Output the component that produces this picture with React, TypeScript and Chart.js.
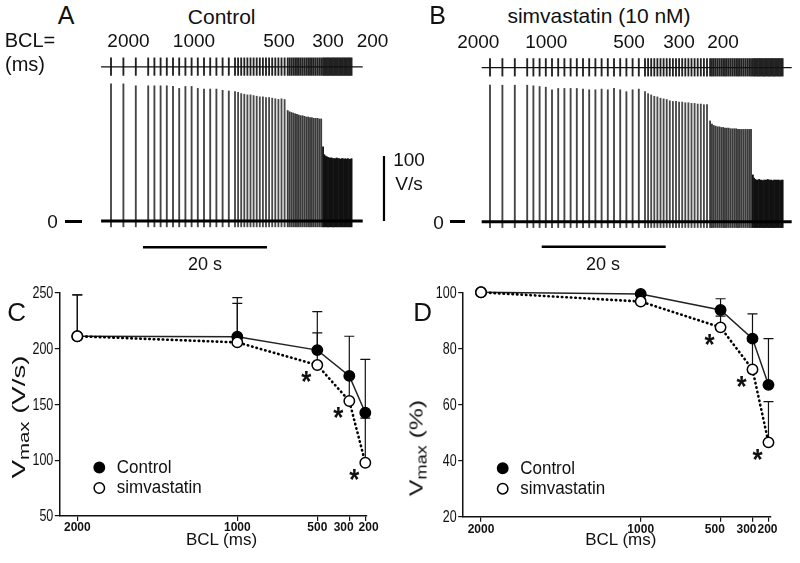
import React, { useEffect, useRef } from 'react';
import { Chart, registerables } from 'chart.js';

Chart.register(...registerables);

const FONT = '"Liberation Sans", Arial, Helvetica, sans-serif';
const INK = '#111';

// ---------------- Panels A & B: Vmax of every upstroke during the BCL ramp ----------------
const BCL_STEPS_MS = [2000, 1000, 500, 300, 200];

// Control (A), V/s per beat, grouped by basic cycle length
const CTRL_BEATS_2000 = [211, 211, 208];
const CTRL_BEATS_1000 = [208, 208, 208, 208, 207, 204, 207, 207, 204, 203, 203, 203, 201, 200];
const CTRL_BEATS_500 = [199, 198, 196, 195, 194, 194, 193, 192, 191, 191, 190, 190, 189, 188, 187, 188, 187];
const CTRL_BEATS_300 = [170, 168, 167, 166, 165, 164, 163, 162, 162, 161, 160, 160, 159, 159, 158, 158, 158, 157, 157];
const CTRL_BEATS_200 = [114, 102, 100, 99, 98, 97, 97, 97, 96, 96, 96, 97, 96, 96, 95, 96, 96, 95, 96, 95, 96, 95, 95, 96];

// simvastatin 10 nM (B), V/s per beat
const SIMVA_BEATS_2000 = [210, 210, 210];
const SIMVA_BEATS_1000 = [210, 209, 208, 207, 203, 205, 205, 205, 205, 204, 203, 203, 204, 203, 205, 203, 200, 203, 204];
const SIMVA_BEATS_500 = [200, 197, 195, 193, 192, 190, 189, 188, 186, 185, 185, 184, 184, 183, 183, 182, 182, 181, 181, 180, 180];
const SIMVA_BEATS_300 = [155, 150, 148, 147, 146, 146, 145, 145, 144, 144, 144, 143, 143, 143, 143, 142, 142, 142, 142, 142, 142, 142, 142];
const SIMVA_BEATS_200 = [72, 67, 65, 64, 64, 65, 64, 64, 63, 64, 64, 64, 65, 64, 64, 64, 63, 64, 64, 64, 64, 64, 63, 64, 64];

const UNDERSHOOT_VS = -9;
const STIM_TICK_LO = 224;
const STIM_TICK_HI = 251;
const STIM_ROW = 237;
const SCALE_BAR_S = 20;
const SCALE_BAR_VS = 100;

// ---------------- Panels C & D: summary ----------------
const BCL_AXIS = [2000, 1000, 500, 300, 200];
const C_Y_TICKS = [50, 100, 150, 200, 250];
const D_Y_TICKS = [20, 40, 60, 80, 100];

const CTRL_VMAX = [211, 210.6, 198.6, 175.5, 142.5];
const CTRL_VMAX_SD = [37, 35, 34.4, 35.5, 47.8];
const SIMVA_VMAX = [211, 205.5, 185.2, 153, 97.7];
const SIMVA_VMAX_SD = [37, 35, 28.8, 24, 40];

const CTRL_PCT = [100, 99.4, 93.7, 83.5, 67];
const CTRL_PCT_SD = [0, 0.5, 4, 8.8, 16.5];
const SIMVA_PCT = [100, 96.7, 87.5, 72.5, 46.5];
const SIMVA_PCT_SD = [0, 1, 4, 10, 14.5];

const SIMVA_SIGNIFICANT = [false, false, true, true, true];

const SPIKE_COLOR: Record<number, string> = { 2000: '#444', 1000: '#444', 500: '#4a4a4a', 300: '#3a3a3a', 200: '#111' };

type Beat = { t: number; vmax: number; bcl: number };

function buildBeats(groups: number[][]): Beat[] {
  let t = 0;
  const beats: Beat[] = [];
  groups.forEach((amps, g) => {
    const bcl = BCL_STEPS_MS[g];
    amps.forEach((a) => {
      beats.push({ t, vmax: a, bcl });
      t += bcl / 1000;
    });
  });
  return beats;
}

type TraceGeom = {
  xMin: number; xMax: number; yMin: number; yMax: number;
  lineFrom: number; lineTo: number;
  timeBarFrom: number; timeBarY: number;
  ampBarX?: number;
};

function traceConfig(beats: Beat[], g: TraceGeom): any {
  const datasets: any[] = [
    {
      type: 'line', data: [{ x: g.lineFrom, y: 0 }, { x: g.lineTo, y: 0 }],
      borderColor: '#000', borderWidth: 3, pointRadius: 0,
    },
    {
      type: 'line', data: [{ x: g.lineFrom, y: STIM_ROW }, { x: g.lineTo, y: STIM_ROW }],
      borderColor: INK, borderWidth: 1.3, pointRadius: 0,
    },
    {
      type: 'bar', data: beats.map((b) => ({ x: b.t, y: [UNDERSHOOT_VS, b.vmax] })),
      backgroundColor: beats.map((b) => SPIKE_COLOR[b.bcl]), barThickness: 1.2, grouped: false,
    },
    {
      type: 'bar', data: beats.map((b) => ({ x: b.t, y: [STIM_TICK_LO, STIM_TICK_HI] })),
      backgroundColor: '#222', barThickness: 1.2, grouped: false,
    },
    {
      type: 'line', data: [{ x: g.timeBarFrom, y: g.timeBarY }, { x: g.timeBarFrom + SCALE_BAR_S, y: g.timeBarY }],
      borderColor: '#000', borderWidth: 2.5, pointRadius: 0,
    },
  ];
  if (g.ampBarX !== undefined) {
    datasets.push({
      type: 'line', data: [{ x: g.ampBarX, y: 0 }, { x: g.ampBarX, y: SCALE_BAR_VS }],
      borderColor: '#000', borderWidth: 2.2, pointRadius: 0,
    });
  }
  return {
    type: 'bar',
    data: { datasets },
    options: {
      animation: false, responsive: false, devicePixelRatio: 1, events: [],
      layout: { padding: 0 },
      plugins: { legend: { display: false }, tooltip: { enabled: false } },
      scales: {
        x: { type: 'linear', min: g.xMin, max: g.xMax, offset: false, display: false },
        y: { type: 'linear', min: g.yMin, max: g.yMax, display: false },
      },
    },
  };
}

function drawStretched(ctx: any, text: string, x: number, y: number, sx: number, sy: number) {
  ctx.save();
  ctx.translate(x, y);
  ctx.scale(sx, sy);
  ctx.fillText(text, 0, 0);
  ctx.restore();
}

const panelExtras = {
  id: 'panelExtras',
  beforeDatasetsDraw(chart: any) {
    const ctx = chart.ctx;
    const xs = chart.scales.x;
    const ys = chart.scales.y;
    ctx.save();
    ctx.strokeStyle = INK;
    ctx.lineWidth = 1.2;
    chart.data.datasets.forEach((ds: any) => {
      const sd = ds.errorUp;
      if (!sd) return;
      ds.data.forEach((p: any, i: number) => {
        if (!sd[i]) return;
        const x = xs.getPixelForValue(p.x);
        const y0 = ys.getPixelForValue(p.y);
        const y1 = ys.getPixelForValue(p.y + sd[i]);
        ctx.beginPath();
        ctx.moveTo(x, y0);
        ctx.lineTo(x, y1);
        ctx.moveTo(x - 5, y1);
        ctx.lineTo(x + 5, y1);
        ctx.stroke();
      });
    });
    ctx.restore();
  },
  afterDraw(chart: any, _args: any, opts: any) {
    const ctx = chart.ctx;
    const xs = chart.scales.x;
    const ys = chart.scales.y;
    const area = chart.chartArea;
    // y tick labels (tall, narrow lettering)
    ctx.save();
    ctx.fillStyle = INK;
    ctx.font = `12.5px ${FONT}`;
    ctx.textAlign = 'right';
    ctx.textBaseline = 'middle';
    ys.ticks.forEach((t: any) => {
      drawStretched(ctx, String(t.value), area.left - 6, ys.getPixelForValue(t.value) + 0.5, 1, 1.38);
    });
    ctx.restore();

    // x tick labels (bold), nudged apart where crowded
    ctx.save();
    ctx.fillStyle = INK;
    ctx.font = `bold 12px ${FONT}`;
    ctx.textAlign = 'center';
    ctx.textBaseline = 'middle';
    xs.ticks.forEach((t: any, i: number) => {
      const nudge = (opts.xNudge && opts.xNudge[i]) || 0;
      drawStretched(ctx, String(t.value), xs.getPixelForValue(t.value) + nudge, area.bottom + opts.xLabelDy, 1, 1.1);
    });
    ctx.restore();

    // significance asterisks
    ctx.save();
    ctx.fillStyle = INK;
    ctx.font = `bold 26px ${FONT}`;
    ctx.textAlign = 'center';
    ctx.textBaseline = 'alphabetic';
    const m = ctx.measureText('*');
    const dy = (m.actualBoundingBoxAscent - m.actualBoundingBoxDescent) / 2;
    chart.data.datasets.forEach((ds: any) => {
      if (!ds.significant) return;
      ds.data.forEach((p: any, i: number) => {
        if (!ds.significant[i]) return;
        const cx = xs.getPixelForValue(p.x) - 11;
        const cy = ys.getPixelForValue(p.y) + 11.5;
        ctx.save();
        ctx.translate(cx, cy);
        ctx.scale(1, 1.15);
        ctx.fillText('*', 0, dy);
        ctx.restore();
      });
    });
    ctx.restore();

    // legend
    ctx.save();
    const items = [chart.data.datasets[1], chart.data.datasets[0]];
    items.forEach((ds: any, k: number) => {
      const cx = area.left + 40;
      const cy = area.bottom - 48.5 + k * 20.5;
      ctx.beginPath();
      ctx.arc(cx, cy, 5.2, 0, Math.PI * 2);
      ctx.fillStyle = ds.pointBackgroundColor;
      ctx.fill();
      ctx.lineWidth = 1.5;
      ctx.strokeStyle = '#000';
      ctx.stroke();
      ctx.fillStyle = INK;
      ctx.font = `17px ${FONT}`;
      ctx.textAlign = 'left';
      ctx.textBaseline = 'middle';
      drawStretched(ctx, ds.label, cx + 17.5, cy + 0.5, 1, 1.05);
    });
    ctx.restore();
  },
};

type SummaryGeom = {
  yMin: number; yMax: number; yTicks: number[];
  xMin: number; xMax: number;
  yAxisWidth: number; xAxisHeight: number; padTop: number; padRight: number;
  xNudge: number[]; xLabelDy: number;
};

function summaryConfig(ctrl: number[], ctrlSd: number[], simva: number[], simvaSd: number[], g: SummaryGeom): any {
  return {
    type: 'line',
    data: {
      datasets: [
        {
          label: 'simvastatin',
          data: BCL_AXIS.map((b, i) => ({ x: b, y: simva[i] })),
          errorUp: simvaSd,
          significant: SIMVA_SIGNIFICANT,
          borderColor: '#000', borderWidth: 2.6, borderDash: [0.5, 4], borderCapStyle: 'round',
          pointRadius: 5.2, pointBorderWidth: 1.5, pointBackgroundColor: '#fff', pointBorderColor: '#000',
          clip: false, tension: 0, fill: false,
        },
        {
          label: 'Control',
          data: BCL_AXIS.map((b, i) => ({ x: b, y: ctrl[i] })),
          errorUp: ctrlSd,
          borderColor: '#222', borderWidth: 1.5,
          pointRadius: 5.2, pointBorderWidth: 1.5, pointBackgroundColor: '#000', pointBorderColor: '#000',
          clip: false, tension: 0, fill: false,
        },
      ],
    },
    options: {
      animation: false, responsive: false, devicePixelRatio: 1, events: [],
      layout: { padding: { top: g.padTop, right: g.padRight, left: 0, bottom: 0 } },
      plugins: {
        legend: { display: false }, tooltip: { enabled: false },
        panelExtras: { xNudge: g.xNudge, xLabelDy: g.xLabelDy },
      },
      scales: {
        x: {
          type: 'linear', reverse: true, min: g.xMin, max: g.xMax,
          afterBuildTicks: (s: any) => { s.ticks = BCL_AXIS.map((v) => ({ value: v })); },
          afterFit: (s: any) => { s.height = g.xAxisHeight; },
          ticks: { display: false },
          grid: { display: true, drawOnChartArea: false, drawTicks: true, tickLength: 5, color: INK, lineWidth: 1.2 },
          border: { display: true, color: INK, width: 1.5 },
        },
        y: {
          type: 'linear', min: g.yMin, max: g.yMax,
          afterBuildTicks: (s: any) => { s.ticks = g.yTicks.map((v) => ({ value: v })); },
          afterFit: (s: any) => { s.width = g.yAxisWidth; },
          ticks: { display: false },
          grid: { display: true, drawOnChartArea: false, drawTicks: true, tickLength: 4.5, color: INK, lineWidth: 1.2 },
          border: { display: true, color: INK, width: 1.5 },
        },
      },
    },
    plugins: [panelExtras],
  };
}

function ChartCanvas({ left, top, width, height, make }: { left: number; top: number; width: number; height: number; make: () => any }) {
  const ref = useRef<HTMLCanvasElement>(null);
  useEffect(() => {
    const chart = new Chart(ref.current as HTMLCanvasElement, make());
    return () => chart.destroy();
  }, []);
  return (
    <canvas
      ref={ref}
      width={width}
      height={height}
      style={{ position: 'absolute', left, top, width, height }}
    />
  );
}

function Txt({ x, y, size, children, weight = 400, sx = 1, sy = 1, rot = 0 }: any) {
  return (
    <div
      style={{
        position: 'absolute', left: x, top: y,
        transform: `translate(-50%,-50%) rotate(${rot}deg) scale(${sx},${sy})`,
        fontFamily: FONT, fontSize: size, fontWeight: weight, lineHeight: 1,
        whiteSpace: 'nowrap', color: INK,
      }}
    >
      {children}
    </div>
  );
}

function Dash({ x1, x2, y }: { x1: number; x2: number; y: number }) {
  return <div style={{ position: 'absolute', left: x1, top: y - 1.5, width: x2 - x1, height: 3, background: '#000' }} />;
}

const sub = { fontSize: '0.74em', position: 'relative' as const, top: '0.32em' };

export default function App() {
  const ctrlBeats = buildBeats([CTRL_BEATS_2000, CTRL_BEATS_1000, CTRL_BEATS_500, CTRL_BEATS_300, CTRL_BEATS_200]);
  const simvaBeats = buildBeats([SIMVA_BEATS_2000, SIMVA_BEATS_1000, SIMVA_BEATS_500, SIMVA_BEATS_300, SIMVA_BEATS_200]);
  const topLabelsA = [128.5, 194, 279, 328, 372.5];
  const topLabelsB = [478.3, 546.3, 629, 679, 723];

  return (
    <div style={{ position: 'absolute', left: 0, top: 0, width: 800, height: 563, background: '#fff', overflow: 'hidden' }}>
      <ChartCanvas
        left={40} top={50} width={390} height={230}
        make={() => traceConfig(ctrlBeats, {
          xMin: -11.452, xMax: 51.452, yMin: -90.77, yMax: 263.08,
          lineFrom: -1.6, lineTo: 40.6, timeBarFrom: 5.16, timeBarY: -40.5, ampBarX: 44.03,
        })}
      />
      <ChartCanvas
        left={432} top={50} width={368} height={230}
        make={() => traceConfig(simvaBeats, {
          xMin: -9.355, xMax: 50.0, yMin: -89.7, yMax: 264.15,
          lineFrom: -1.34, lineTo: 48.66, timeBarFrom: 8.34, timeBarY: -38.5,
        })}
      />
      <ChartCanvas
        left={0} top={280} width={390} height={265}
        make={() => summaryConfig(CTRL_VMAX, CTRL_VMAX_SD, SIMVA_VMAX, SIMVA_VMAX_SD, {
          yMin: 50, yMax: 250, yTicks: C_Y_TICKS, xMin: 189.4, xMax: 2112.5,
          yAxisWidth: 59.3, xAxisHeight: 29, padTop: 12.7, padRight: 23,
          xNudge: [0, 0, 0, -5.6, 3.3], xLabelDy: 11.5,
        })}
      />
      <ChartCanvas
        left={400} top={280} width={400} height={265}
        make={() => summaryConfig(CTRL_PCT, CTRL_PCT_SD, SIMVA_PCT, SIMVA_PCT_SD, {
          yMin: 20, yMax: 100, yTicks: D_Y_TICKS, xMin: 186, xMax: 2114.6,
          yAxisWidth: 62.7, xAxisHeight: 28.3, padTop: 12.3, padRight: 29.3,
          xNudge: [0, 0, -5.7, -6, -1], xLabelDy: 12.3,
        })}
      />

      {/* Panel A texts */}
      <Txt x={66} y={15} size={25}>A</Txt>
      <Txt x={221.7} y={16} size={21}>Control</Txt>
      <Txt x={30} y={40} size={20}>BCL=</Txt>
      <Txt x={25} y={64} size={20}>(ms)</Txt>
      {BCL_STEPS_MS.map((b, i) => (
        <Txt key={'a' + b} x={topLabelsA[i]} y={40} size={19}>{String(b)}</Txt>
      ))}
      <Txt x={52.5} y={221} size={19}>0</Txt>
      <Dash x1={65} x2={82} y={221} />
      <Txt x={409} y={159} size={19}>100</Txt>
      <Txt x={409} y={183} size={19}>V/s</Txt>
      <Txt x={205} y={264} size={18}>20 s</Txt>

      {/* Panel B texts */}
      <Txt x={437.5} y={15} size={25}>B</Txt>
      <Txt x={599} y={15} size={21}>simvastatin (10 nM)</Txt>
      {BCL_STEPS_MS.map((b, i) => (
        <Txt key={'b' + b} x={topLabelsB[i]} y={41} size={19}>{String(b)}</Txt>
      ))}
      <Txt x={438.5} y={221.7} size={19}>0</Txt>
      <Dash x1={450} x2={465} y={221.7} />
      <Txt x={603} y={264} size={18}>20 s</Txt>

      {/* Panel C texts */}
      <Txt x={16.7} y={311.7} size={26}>C</Txt>
      <Txt x={18} y={416.7} size={19} rot={-90} sx={1.45}>V<span style={sub}>max</span> (V/s)</Txt>
      <Txt x={221.5} y={538.5} size={17}>BCL (ms)</Txt>

      {/* Panel D texts */}
      <Txt x={422.7} y={312} size={26}>D</Txt>
      <Txt x={416} y={448} size={19} rot={-90} sx={1.3}>V<span style={sub}>max</span> (%)</Txt>
      <Txt x={620.8} y={538.5} size={17}>BCL (ms)</Txt>
    </div>
  );
}
